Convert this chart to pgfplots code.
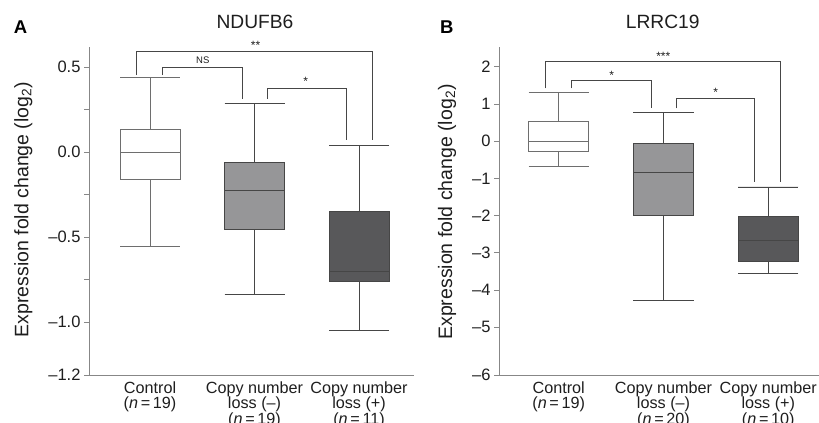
\documentclass[border=0pt]{standalone}
\usepackage{fontspec}
\setmainfont{Liberation Sans}
\usepackage{pgfplots}
\pgfplotsset{compat=1.18}
\usepgfplotslibrary{statistics}

\definecolor{axisgray}{RGB}{135,135,135}
\definecolor{linegray}{RGB}{70,70,70}
\definecolor{ctrlgray}{RGB}{110,110,110}
\definecolor{midfill}{RGB}{150,150,152}
\definecolor{darkfill}{RGB}{88,88,90}
\definecolor{txt}{RGB}{30,30,30}

\newcommand{\tickfont}{\fontsize{16.5bp}{15.5bp}\selectfont}
\newcommand{\catfont}{\fontsize{16.2bp}{15.5bp}\selectfont}

\tikzset{
  star/.style={font=\fontsize{12bp}{12bp}\selectfont, text=txt, anchor=base, inner sep=0pt},
  brk/.style={draw=linegray, line width=0.8pt},
}
\pgfplotsset{
  panel/.style={
    scale only axis, height=328bp, anchor=south west,
    axis x line*=bottom, axis y line*=left,
    axis line style={axisgray, line width=1pt},
    tick align=outside,
    major tick length=5bp, minor tick length=5bp,
    ytick style={axisgray, line width=0.9pt},
    xtick style={draw=none},
    xtick={1,2,3},
    yticklabel style={font=\tickfont, text=txt},
    xticklabel style={font=\catfont, text=txt, align=center, yshift=2bp},
    clip=false,
  },
  bx/.style={line width=0.9pt, boxplot/draw direction=y},
}

\begin{document}
\begin{tikzpicture}
\path[use as bounding box] (0,0) rectangle (819bp,-423bp);

% ---- panel A ----
\begin{axis}[panel, at={(89bp,-375bp)}, width=325bp,
  xmin=0.416, xmax=3.526, ymin=-1.311, ymax=0.619,
  ytick={-1.311,-1,-0.5,0,0.5},
  yticklabels={–1.2,–1.0,–0.5,0.0,0.5},
  minor ytick={-0.75,-0.25,0.25},
  xticklabels={{Control\\(\textit{n}\,=\,19)},
               {Copy number\\loss (–)\\(\textit{n}\,=\,19)},
               {Copy number\\loss (+)\\(\textit{n}\,=\,11)}},
]
\addplot[bx, draw=ctrlgray, fill=white, boxplot prepared={draw position=1,
  lower whisker=-0.552, lower quartile=-0.159, median=0,
  upper quartile=0.136, upper whisker=0.438,
  box extend=0.574, whisker extend=0.574}] coordinates {};
\addplot[bx, draw=linegray, fill=midfill, boxplot prepared={draw position=2,
  lower whisker=-0.836, lower quartile=-0.454, median=-0.224,
  upper quartile=-0.059, upper whisker=0.288,
  box extend=0.574, whisker extend=0.574}] coordinates {};
\addplot[bx, draw=linegray, fill=darkfill, boxplot prepared={draw position=3,
  lower whisker=-1.048, lower quartile=-0.758, median=-0.703,
  upper quartile=-0.350, upper whisker=0.038,
  box extend=0.574, whisker extend=0.574}] coordinates {};

\draw[brk] (axis cs:0.873,0.454) |- (axis cs:3.13,0.591) -- (axis cs:3.13,0.072);
\draw[brk] (axis cs:1.12,0.454) |- (axis cs:1.88,0.497) -- (axis cs:1.88,0.315);
\draw[brk] (axis cs:2.126,0.315) |- (axis cs:2.88,0.376) -- (axis cs:2.88,0.072);
\node[star] at (axis cs:2.01,0.606) {**};
\node[font=\fontsize{9.5bp}{9.5bp}\selectfont, text=txt, inner sep=0pt] at (axis cs:1.505,0.542) {NS};
\node[star] at (axis cs:2.49,0.394) {*};
\end{axis}

% ---- panel B ----
\begin{axis}[panel, at={(499bp,-375bp)}, width=320bp,
  xmin=0.430, xmax=3.484, ymin=-6.282, ymax=2.535,
  ytick={-6.282,-5,-4,-3,-2,-1,0,1,2},
  yticklabels={–6,–5,–4,–3,–2,–1,0,1,2},
  xticklabels={{Control\\(\textit{n}\,=\,19)},
               {Copy number\\loss (–)\\(\textit{n}\,=\,20)},
               {Copy number\\loss (+)\\(\textit{n}\,=\,10)}},
]
\addplot[bx, draw=ctrlgray, fill=white, boxplot prepared={draw position=1,
  lower whisker=-0.664, lower quartile=-0.269, median=0,
  upper quartile=0.527, upper whisker=1.306,
  box extend=0.574, whisker extend=0.574}] coordinates {};
\addplot[bx, draw=linegray, fill=midfill, boxplot prepared={draw position=2,
  lower whisker=-4.266, lower quartile=-2.0, median=-0.833,
  upper quartile=-0.054, upper whisker=0.780,
  box extend=0.574, whisker extend=0.574}] coordinates {};
\addplot[bx, draw=linegray, fill=darkfill, boxplot prepared={draw position=3,
  lower whisker=-3.548, lower quartile=-3.237, median=-2.653,
  upper quartile=-2.027, upper whisker=-1.228,
  box extend=0.574, whisker extend=0.574}] coordinates {};

\draw[brk] (axis cs:0.876,1.425) |- (axis cs:3.12,2.140) -- (axis cs:3.12,-1.086);
\draw[brk] (axis cs:1.124,1.425) |- (axis cs:1.88,1.640) -- (axis cs:1.88,0.887);
\draw[brk] (axis cs:2.12,0.887) |- (axis cs:2.87,1.145) -- (axis cs:2.87,-1.086);
\node[star] at (axis cs:1.998,2.161) {***};
\node[star] at (axis cs:1.506,1.659) {*};
\node[star] at (axis cs:2.498,1.194) {*};
\end{axis}

% titles, panel letters, y labels
\node[font=\fontsize{19.2bp}{20bp}\selectfont, text=txt] at (255bp,-22.3bp) {NDUFB6};
\node[font=\fontsize{19.2bp}{20bp}\selectfont, text=txt] at (662.7bp,-22.3bp) {LRRC19};
\node[font=\bfseries\fontsize{18.5bp}{20bp}\selectfont, text=black] at (20.5bp,-27bp) {A};
\node[font=\bfseries\fontsize{18.5bp}{20bp}\selectfont, text=black] at (446.7bp,-27bp) {B};
\node[rotate=90, anchor=base, font=\fontsize{19.5bp}{20bp}\selectfont, text=txt]
  at (28.3bp,-209.5bp) {Expression fold change (log\textsubscript{2})};
\node[rotate=90, anchor=base, font=\fontsize{19.5bp}{20bp}\selectfont, text=txt]
  at (452bp,-212bp) {Expression fold change (log\textsubscript{2})};
\end{tikzpicture}
\end{document}
